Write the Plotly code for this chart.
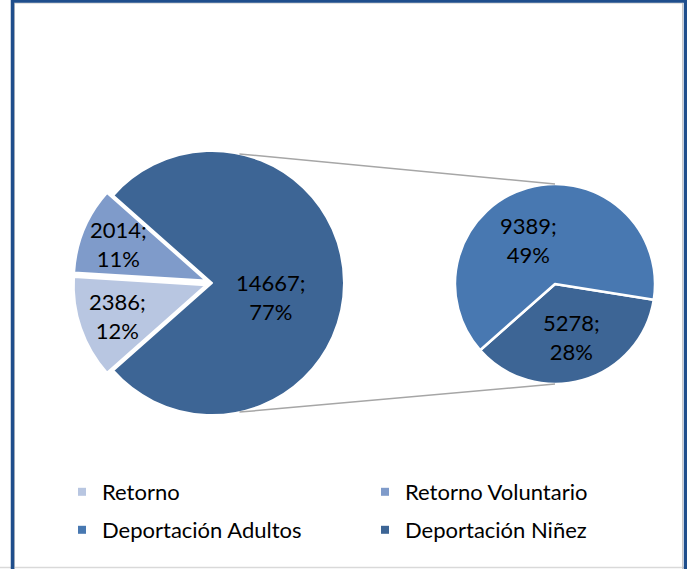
import math
import plotly.graph_objects as go

# ---------------- data ----------------
ret_labels = ["Retorno", "Retorno Voluntario"]
ret_values = [2386, 2014]
ret_pct = [12, 11]

dep_labels = ["Deportación Niñez", "Deportación Adultos"]
dep_values = [5278, 9389]
dep_pct = [28, 49]

dep_group_label = "Deportación"
dep_group_pct = 77

legend_row1 = ["Retorno", "Retorno Voluntario"]
legend_row2 = ["Deportación Adultos", "Deportación Niñez"]

colors = {
    "Retorno": "#B8C6E1",
    "Retorno Voluntario": "#7F9BCA",
    "Deportación Adultos": "#4878B1",
    "Deportación Niñez": "#3D6595",
    "Deportación": "#3D6595",
}

# ---------------- layout geometry (pixels) ----------------
W, H = 687, 569
L_CX, L_CY, L_R = 212, 283, 132
R_CX, R_CY, R_R = 555, 284, 100
PULL = 0.05
FONT = "Lato, Carlito, Calibri, Liberation Sans, sans-serif"
FS = 22


def px(x):
    return x / W


def py(y):
    return 1 - y / H


def mid_angles(values, rotation):
    tot = float(sum(values))
    out, cum = [], 0.0
    for v in values:
        out.append(rotation + 360.0 * (cum + v / 2.0) / tot)
        cum += v
    return out


# left pie: aggregated deportación + retornos
dep_total = sum(dep_values)
left_labels = [dep_group_label] + ret_labels
left_values = [dep_total] + ret_values
left_pct = [dep_group_pct] + ret_pct
left_pull = [0] + [PULL] * len(ret_values)
left_rot = 90 - 180 * dep_total / sum(left_values)
right_rot = 99

lh = L_R * (1 + PULL)
fig = go.Figure()
fig.add_trace(go.Pie(
    labels=left_labels, values=left_values, textinfo="none",
    sort=False, direction="clockwise", rotation=left_rot,
    pull=left_pull,
    marker=dict(colors=[colors[l] for l in left_labels], line=dict(color="#FFFFFF", width=2)),
    domain=dict(x=[px(L_CX - lh), px(L_CX + lh)], y=[py(L_CY + lh), py(L_CY - lh)]),
    showlegend=False, hoverinfo="label+value+percent",
))

fig.add_trace(go.Pie(
    labels=dep_labels, values=dep_values, textinfo="none",
    sort=False, direction="clockwise", rotation=right_rot,
    marker=dict(colors=[colors[l] for l in dep_labels], line=dict(color="#FFFFFF", width=2.5)),
    domain=dict(x=[px(R_CX - R_R), px(R_CX + R_R)], y=[py(R_CY + R_R), py(R_CY - R_R)]),
    showlegend=False, hoverinfo="label+value+percent",
))

# data labels, placed along each slice's mid angle
annotations = []


def add_labels(values, pcts, rotation, cx, cy, r, pulls, fracs, nudges):
    for v, p, m, pl, fr, nd in zip(values, pcts, mid_angles(values, rotation), pulls, fracs, nudges):
        a0 = math.radians(m)
        ox = cx + pl * r * math.sin(a0)
        oy = cy - pl * r * math.cos(a0)
        a = math.radians(m + nd)
        annotations.append(dict(
            x=px(ox + fr * r * math.sin(a)), y=py(oy - fr * r * math.cos(a)),
            xref="paper", yref="paper", showarrow=False,
            xanchor="center", yanchor="middle",
            text=f"{v};<br>{p}%", align="center",
            font=dict(family=FONT, size=FS, color="#000000"),
        ))


add_labels(left_values, left_pct, left_rot, L_CX, L_CY, L_R, left_pull,
           [0.46, 0.71, 0.72], [13, 0, 0])
add_labels(dep_values, dep_pct, right_rot, R_CX, R_CY, R_R, [0, 0],
           [0.555, 0.52], [-1, -15])

# legend entries (two rows -> two legends)
for lab in legend_row1:
    fig.add_trace(go.Scatter(
        x=[None], y=[None], mode="markers", name=lab, legend="legend",
        marker=dict(symbol="square", size=8, color=colors[lab]),
        showlegend=True, hoverinfo="skip",
    ))
for lab in legend_row2:
    fig.add_trace(go.Scatter(
        x=[None], y=[None], mode="markers", name=lab, legend="legend2",
        marker=dict(symbol="square", size=8, color=colors[lab]),
        showlegend=True, hoverinfo="skip",
    ))

# connector lines between pies
a = math.radians(12)
shapes = [
    dict(type="line", xref="paper", yref="paper",
         x0=px(L_CX + L_R * math.sin(a)), y0=py(L_CY - L_R * math.cos(a)),
         x1=px(R_CX), y1=py(R_CY - R_R),
         line=dict(color="#A6A6A6", width=1.5)),
    dict(type="line", xref="paper", yref="paper",
         x0=px(L_CX + L_R * math.sin(a)), y0=py(L_CY + L_R * math.cos(a)),
         x1=px(R_CX), y1=py(R_CY + R_R),
         line=dict(color="#A6A6A6", width=1.5)),
    # frame
    dict(type="line", xref="paper", yref="paper", x0=px(0), x1=px(W), y0=py(567.5), y1=py(567.5),
         line=dict(color="#D9D9D9", width=1.5)),
    dict(type="rect", xref="paper", yref="paper", x0=px(14.5), x1=px(682.5), y0=py(3), y1=py(600),
         line=dict(color="#C8C8C8", width=1)),
    dict(type="rect", xref="paper", yref="paper", x0=px(12.5), x1=px(685.5), y0=py(1), y1=py(600),
         line=dict(color="#1F4E8C", width=3.5)),
]

legend_common = dict(
    orientation="h", xanchor="left", yanchor="top",
    entrywidth=258, entrywidthmode="pixels",
    font=dict(size=FS, family=FONT, color="#000000"),
    bgcolor="rgba(0,0,0,0)", traceorder="normal",
)

fig.update_layout(
    width=W, height=H,
    margin=dict(l=0, r=0, t=0, b=0),
    paper_bgcolor="#FFFFFF", plot_bgcolor="#FFFFFF",
    font=dict(family=FONT, color="#000000"),
    xaxis=dict(visible=False), yaxis=dict(visible=False),
    shapes=shapes, annotations=annotations,
    legend=dict(x=px(62), y=py(471), **legend_common),
    legend2=dict(x=px(62), y=py(509), **legend_common),
)

fig.write_html("out.html", config={"displayModeBar": False},
               post_script="document.body.style.margin='0';")
